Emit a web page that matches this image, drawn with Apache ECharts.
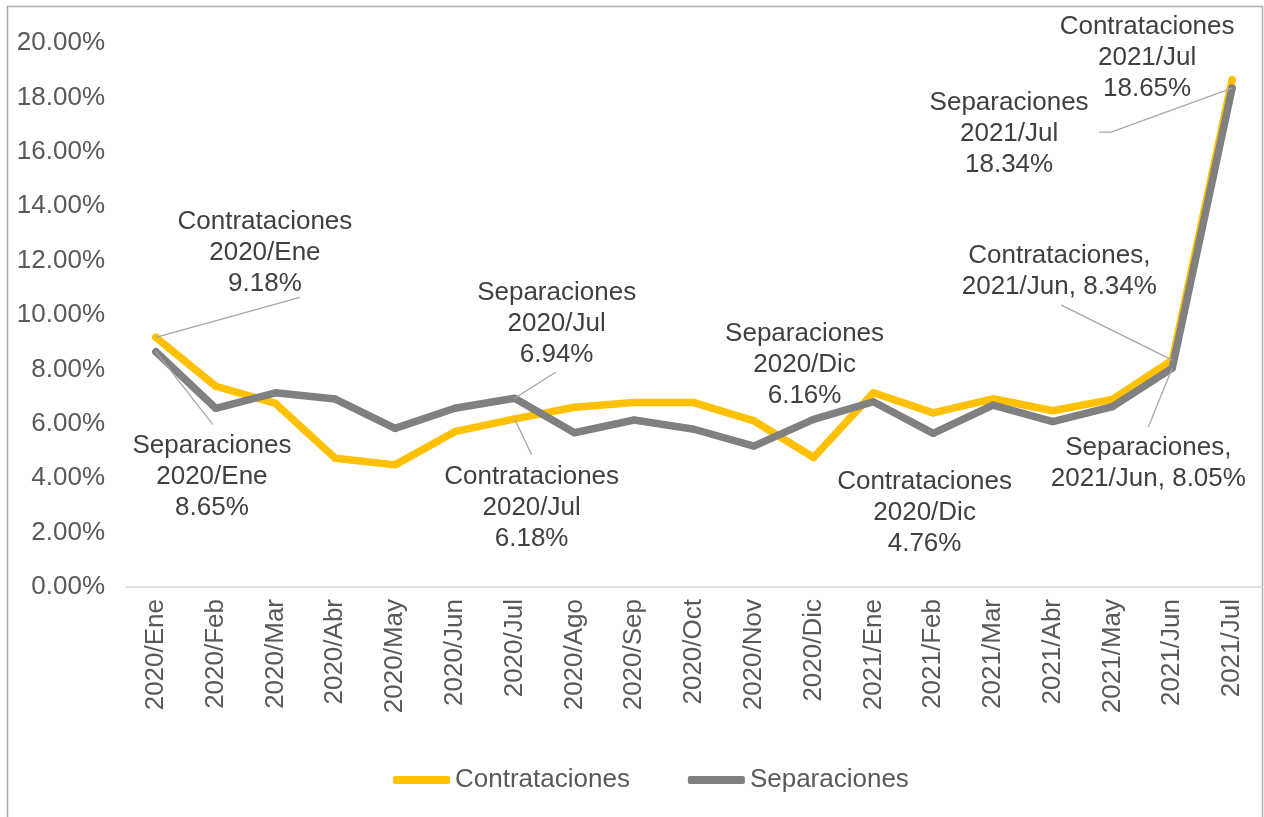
<!DOCTYPE html>
<html>
<head>
<meta charset="utf-8">
<script src="https://cdn.jsdelivr.net/npm/echarts@6/dist/echarts.min.js"></script>
<style>
  html, body { margin: 0; padding: 0; background: #fff; }
  #chart { width: 1264px; height: 817px; }
</style>
</head>
<body>
<div id="chart"></div>
<script>
// months on the category axis
const categories = ['2020/Ene', '2020/Feb', '2020/Mar', '2020/Abr', '2020/May', '2020/Jun', '2020/Jul',
  '2020/Ago', '2020/Sep', '2020/Oct', '2020/Nov', '2020/Dic', '2021/Ene', '2021/Feb', '2021/Mar',
  '2021/Abr', '2021/May', '2021/Jun', '2021/Jul'];

// rates in percent
const contrataciones = [9.18, 7.38, 6.75, 4.73, 4.49, 5.71, 6.18, 6.61, 6.78, 6.78, 6.11, 4.76,
  7.14, 6.40, 6.92, 6.48, 6.90, 8.34, 18.65];
const separaciones = [8.65, 6.57, 7.14, 6.91, 5.83, 6.57, 6.94, 5.67, 6.14, 5.80, 5.18, 6.16,
  6.81, 5.65, 6.69, 6.08, 6.63, 8.05, 18.34];

const yTicks = [0, 2, 4, 6, 8, 10, 12, 14, 16, 18, 20];

// which points carry a data label: [index, dx, dy, compact format]
const contratacionesLabels = [[0, 109, -84, false], [6, 17, 89, false],
  [11, 111, 55, false], [17, -113, -89, true], [18, -85, -22, false]];
const separacionesLabels = [[0, 56, 125, false], [6, 42, -74, false],
  [11, -9, -55, false], [17, -24, 95, true], [18, -223, 46, false]];

// leader lines: [seriesIndex, dataIndex, bends relative to the point...]
const leaders = [
  [0, 0, [[144, -40]]],
  [0, 6, [[17, 36]]],
  [0, 17, [[-111, -55]]],
  [1, 0, [[57, 73]]],
  [1, 6, [[41, -26]]],
  [1, 17, [[-24, 59]]],
  [1, 18, [[-121, 44], [-133, 44]]]
];

const FONT = '"Liberation Sans", Arial, sans-serif';

function buildData(name, values, labels) {
  return values.map(function(v, i) {
    const cfg = labels.find(function(l) { return l[0] === i; });
    if (!cfg) return v;
    const text = cfg[3]
      ? name + ',\n' + categories[i] + ', ' + v.toFixed(2) + '%'
      : name + '\n' + categories[i] + '\n' + v.toFixed(2) + '%';
    return { value: v, label: { show: true, formatter: text } };
  });
}

function layoutFor(labels) {
  return function(params) {
    const cfg = labels.find(function(l) { return l[0] === params.dataIndex; });
    if (!cfg) return {};
    const cx = params.rect.x + params.rect.width / 2;
    const cy = params.rect.y + params.rect.height / 2;
    return {
      x: cx + cfg[1],
      y: cy + cfg[2],
      align: 'center',
      verticalAlign: 'middle'
    };
  };
}

const labelStyle = {
  show: false,
  position: 'inside',
  fontFamily: FONT,
  fontSize: 26,
  lineHeight: 31,
  color: '#404040',
  align: 'center',
  verticalAlign: 'middle'
};

const frame = {
  type: 'rect',
  shape: { x: 7.5, y: 6.5, width: 1255, height: 840 },
  style: { fill: 'none', stroke: '#adadad', lineWidth: 1.5 },
  silent: true
};

const chart = echarts.init(document.getElementById('chart'));
const option = {
  animation: false,
  backgroundColor: '#fff',
  graphic: [frame],
  grid: { left: 126, right: 2, top: 43, bottom: 230 },
  legend: {
    left: 388,
    top: 762,
    icon: 'roundRect',
    itemWidth: 57,
    itemHeight: 8,
    itemGap: 58,
    textStyle: { fontFamily: FONT, fontSize: 26, color: '#595959' },
    data: [
      { name: 'Contrataciones', itemStyle: { color: '#FFC000' } },
      { name: 'Separaciones', itemStyle: { color: '#808080' } }
    ]
  },
  xAxis: {
    type: 'category',
    data: categories,
    boundaryGap: true,
    axisLine: { lineStyle: { color: '#d9d9d9', width: 1.5 } },
    axisTick: { show: false },
    axisLabel: {
      rotate: 90,
      interval: 0,
      margin: 12,
      fontFamily: FONT,
      fontSize: 26,
      color: '#595959'
    },
    splitLine: { show: false }
  },
  yAxis: {
    type: 'value',
    min: yTicks[0],
    max: yTicks[yTicks.length - 1],
    interval: 2,
    axisLine: { show: false },
    axisTick: { show: false },
    splitLine: { show: false },
    axisLabel: {
      margin: 21,
      fontFamily: FONT,
      fontSize: 26,
      color: '#595959',
      formatter: function(v) { return v.toFixed(2) + '%'; }
    }
  },
  series: [
    {
      name: 'Contrataciones',
      type: 'line',
      data: buildData('Contrataciones', contrataciones, contratacionesLabels),
      symbol: 'circle',
      symbolSize: 7,
      itemStyle: { color: '#FFC000' },
      lineStyle: { color: '#FFC000', width: 7.5, cap: 'round', join: 'round' },
      label: labelStyle,
      labelLayout: layoutFor(contratacionesLabels),
      emphasis: { disabled: true },
      z: 2
    },
    {
      name: 'Separaciones',
      type: 'line',
      data: buildData('Separaciones', separaciones, separacionesLabels),
      symbol: 'circle',
      symbolSize: 7,
      itemStyle: { color: '#808080' },
      lineStyle: { color: '#808080', width: 7.5, cap: 'round', join: 'round' },
      label: labelStyle,
      labelLayout: layoutFor(separacionesLabels),
      emphasis: { disabled: true },
      z: 3
    }
  ]
};
chart.setOption(option);

// leader lines start at each labelled point, placed through the axes
const seriesValues = [contrataciones, separaciones];
const leaderShapes = leaders.map(function(l) {
  const p = chart.convertToPixel({ seriesIndex: l[0] }, [l[1], seriesValues[l[0]][l[1]]]);
  const pts = [p].concat(l[2].map(function(o) { return [p[0] + o[0], p[1] + o[1]]; }));
  return {
    type: 'polyline',
    shape: { points: pts },
    style: { stroke: '#a6a6a6', lineWidth: 1.3, fill: null },
    z: 10,
    silent: true
  };
});
chart.setOption({ graphic: [frame].concat(leaderShapes) });
</script>
</body>
</html>
